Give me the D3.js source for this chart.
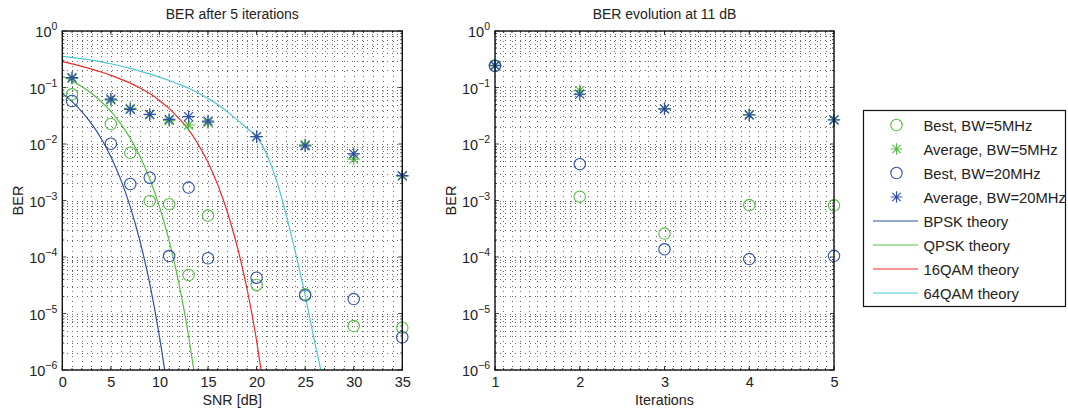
<!DOCTYPE html>
<html>
<head>
<meta charset="utf-8">
<script src="https://cdn.jsdelivr.net/npm/d3@7"></script>
<style>
    body { margin: 0; background: #fff; }
    svg text { font-family: "Liberation Sans", Arial, sans-serif; fill: #222; }
</style>
</head>
<body>
<svg id="chart" width="1068" height="409"></svg>
<script>
"use strict";

// tick labels
var snrTicks = [0, 5, 10, 15, 20, 25, 30, 35];
var iterTicks = [1, 2, 3, 4, 5];
var decades = [0, -1, -2, -3, -4, -5, -6];

// measured points, left panel (BER after 5 iterations)
var snrPoints = [1, 5, 7, 9, 11, 13, 15, 20, 25, 30, 35];
var bestBw5Snr = [0.0757, 0.0226, 0.0070, 0.00098, 0.00086, 4.8e-5, 0.00054, 3.2e-5, 2.2e-5, 6.0e-6, 5.6e-6];
var avgBw5Snr = [0.145, 0.060, 0.0427, 0.033, 0.026, 0.0217, 0.024, 0.0135, 0.0097, 0.0054, 0.0027];
var bestBw20Snr = [0.0577, 0.0101, 0.00196, 0.00253, 1.04e-4, 0.00169, 9.5e-5, 4.3e-5, 2.1e-5, 1.8e-5, 3.8e-6];
var avgBw20Snr = [0.149, 0.0625, 0.041, 0.0335, 0.0273, 0.0305, 0.0255, 0.0135, 0.0093, 0.0067, 0.00275];

// measured points, right panel (BER evolution at 11 dB)
var iterPoints = [1, 2, 3, 4, 5];
var bestBw5Iter = [0.245, 0.00117, 2.6e-4, 0.00083, 0.00082];
var avgBw5Iter = [0.25, 0.088, 0.042, 0.033, 0.027];
var bestBw20Iter = [0.24, 0.0044, 1.37e-4, 9.2e-5, 1.05e-4];
var avgBw20Iter = [0.243, 0.076, 0.042, 0.0326, 0.0266];

// theory curves
var bpskSnr = [0, 1, 2, 3, 4, 5, 6, 7, 8, 9, 10, 10.5, 11];
var bpskBer = [0.0786, 0.0563, 0.0375, 0.0229, 0.0125, 0.00595, 0.00239, 7.7e-4, 1.9e-4, 3.4e-5, 3.9e-6, 1.1e-6, 2.6e-7];
var qpskSnr = [0, 1, 2, 3, 4, 5, 6, 7, 8, 9, 10, 11, 12, 13, 13.5, 14];
var qpskBer = [0.1587, 0.131, 0.104, 0.0789, 0.0565, 0.0377, 0.023, 0.0126, 0.006, 0.00242, 7.8e-4, 1.94e-4, 3.4e-5, 4.0e-6, 1.1e-6, 2.7e-7];
var qam16Snr = [0, 1, 2, 3, 4, 5, 6, 7, 8, 9, 10, 11, 12, 13, 14, 15, 16, 17, 18, 19, 20, 20.5, 21];
var qam16Ber = [0.287, 0.2625, 0.237, 0.212, 0.188, 0.164, 0.141, 0.1195, 0.098, 0.078, 0.059, 0.0422, 0.0285, 0.018, 0.0098, 0.0047, 0.0019, 6.2e-4, 1.55e-4, 2.8e-5, 3.3e-6, 9e-7, 2.2e-7];
var qam64Snr = [0, 1, 2, 3, 4, 5, 6, 7, 8, 9, 10, 11, 12, 13, 14, 15, 16, 17, 18, 19, 20, 21, 22, 23, 24, 25, 26, 26.6, 27];
var qam64Ber = [0.355, 0.34, 0.325, 0.305, 0.285, 0.263, 0.240, 0.218, 0.195, 0.174, 0.153, 0.133, 0.114, 0.097, 0.080, 0.064, 0.050, 0.037, 0.027, 0.019, 0.0135, 0.0068, 0.0024, 6.0e-4, 1.2e-4, 2.1e-5, 3.0e-6, 1.0e-6, 3.5e-7];

var seriesNames = ["Best, BW=5MHz", "Average, BW=5MHz", "Best, BW=20MHz", "Average, BW=20MHz",
    "BPSK theory", "QPSK theory", "16QAM theory", "64QAM theory"];

var blue = "#2f4ea6",
    green = "#59bd45",
    red = "#ec2a2a",
    cyan = "#4cc7d7";

var svg = d3.select("#chart");
var plotTop = 31, plotBottom = 370;

function zip(xs, ys) {
    return xs.map(function (x, i) { return [x, ys[i]]; });
}

function starPath(s) {
    var d = s * 0.72;
    return "M" + (-s) + ",0H" + s + "M0," + (-s) + "V" + s +
        "M" + (-d) + "," + (-d) + "L" + d + "," + d +
        "M" + (-d) + "," + d + "L" + d + "," + (-d);
}

function panel(opt) {
    var x = d3.scaleLinear().domain(opt.domain).range([opt.left, opt.right]),
        y = d3.scaleLog().domain([1e-6, 1]).range([plotBottom, plotTop]),
        g = svg.append("g"),
        minorY = [],
        minorX = d3.range(opt.domain[0], opt.domain[1] + 1e-9, opt.minorStep);

    decades.slice(1).forEach(function (e) {
        for (var m = 2; m <= 9; m++) minorY.push(m * Math.pow(10, e));
    });

    var clipId = "clip" + Math.round(opt.left);
    svg.append("clipPath").attr("id", clipId).append("rect")
        .attr("x", opt.left).attr("y", plotTop)
        .attr("width", opt.right - opt.left).attr("height", plotBottom - plotTop);

    // dotted grid
    var gx0 = Math.round(opt.left), gx1 = Math.round(opt.right);
    var grid = g.append("g").attr("stroke", "#666").attr("stroke-width", 1)
        .attr("stroke-dasharray", "1,4");
    grid.selectAll(".gy").data(minorY.concat(decades.map(function (e) { return Math.pow(10, e); })))
        .enter().append("line")
        .attr("x1", gx0).attr("x2", gx1)
        .attr("y1", function (d) { return Math.round(y(d)) + 0.5; })
        .attr("y2", function (d) { return Math.round(y(d)) + 0.5; });
    grid.selectAll(".gx").data(minorX).enter().append("line")
        .attr("y1", plotTop).attr("y2", plotBottom)
        .attr("x1", function (d) { return Math.round(x(d)) + 0.5; })
        .attr("x2", function (d) { return Math.round(x(d)) + 0.5; });

    // inner ticks on all four sides
    var ticks = g.append("g").attr("stroke", "#111").attr("stroke-width", 0.8);
    minorY.forEach(function (v) {
        ticks.append("line").attr("x1", opt.left).attr("x2", opt.left + 2).attr("y1", y(v)).attr("y2", y(v));
        ticks.append("line").attr("x1", opt.right).attr("x2", opt.right - 2).attr("y1", y(v)).attr("y2", y(v));
    });
    decades.forEach(function (e) {
        var v = Math.pow(10, e);
        ticks.append("line").attr("x1", opt.left).attr("x2", opt.left + 4).attr("y1", y(v)).attr("y2", y(v));
        ticks.append("line").attr("x1", opt.right).attr("x2", opt.right - 4).attr("y1", y(v)).attr("y2", y(v));
    });
    minorX.forEach(function (v) {
        ticks.append("line").attr("y1", plotBottom).attr("y2", plotBottom - 2).attr("x1", x(v)).attr("x2", x(v));
        ticks.append("line").attr("y1", plotTop).attr("y2", plotTop + 2).attr("x1", x(v)).attr("x2", x(v));
    });
    opt.ticks.forEach(function (v) {
        ticks.append("line").attr("y1", plotBottom).attr("y2", plotBottom - 4).attr("x1", x(v)).attr("x2", x(v));
        ticks.append("line").attr("y1", plotTop).attr("y2", plotTop + 4).attr("x1", x(v)).attr("x2", x(v));
    });

    // x tick labels
    g.append("g").attr("transform", "translate(0," + plotBottom + ")")
        .call(d3.axisBottom(x).tickValues(opt.ticks).tickSize(0).tickPadding(7).tickFormat(d3.format("d")))
        .call(function (a) {
            a.select(".domain").remove();
            a.selectAll("text").attr("font-size", 14.5).attr("fill", "#222")
                .attr("font-family", "Liberation Sans, Arial, sans-serif");
        });

    // y tick labels as powers of ten
    decades.forEach(function (e) {
        var t = g.append("text").attr("x", opt.left - 5).attr("y", y(Math.pow(10, e)) + 6)
            .attr("text-anchor", "end").attr("font-size", 14.5);
        t.append("tspan").text("10");
        t.append("tspan").attr("dy", -7).attr("font-size", 10.5)
            .text(e === 0 ? "0" : "\u2212" + (-e));
    });

    // theory lines
    var line = d3.line().curve(d3.curveMonotoneX)
        .x(function (d) { return x(d[0]); })
        .y(function (d) { return y(d[1]); });
    (opt.lines || []).forEach(function (l) {
        g.append("path").datum(l.data).attr("d", line)
            .attr("clip-path", "url(#" + clipId + ")")
            .attr("fill", "none").attr("stroke", l.color).attr("stroke-width", 1.2);
    });

    // markers
    opt.markers.forEach(function (m) {
        var pts = zip(m.x, m.y);
        if (m.type === "circle") {
            g.append("g").selectAll("circle").data(pts).enter().append("circle")
                .attr("cx", function (d) { return x(d[0]); })
                .attr("cy", function (d) { return y(d[1]); })
                .attr("r", 5.7).attr("fill", "none")
                .attr("stroke", m.color).attr("stroke-width", 1.1);
        } else {
            g.append("g").selectAll("path").data(pts).enter().append("path")
                .attr("transform", function (d) { return "translate(" + x(d[0]) + "," + y(d[1]) + ")"; })
                .attr("d", starPath(6.2)).attr("fill", "none")
                .attr("stroke", m.color).attr("stroke-width", 1.2);
        }
    });

    // frame
    g.append("rect").attr("x", opt.left).attr("y", plotTop)
        .attr("width", opt.right - opt.left).attr("height", plotBottom - plotTop)
        .attr("fill", "none").attr("stroke", "#111").attr("stroke-width", 1.4);

    // titles
    var cx = (opt.left + opt.right) / 2;
    g.append("text").attr("x", cx).attr("y", 19).attr("text-anchor", "middle")
        .attr("font-size", 14).text(opt.title);
    g.append("text").attr("x", cx).attr("y", 405).attr("text-anchor", "middle")
        .attr("font-size", 14.3).text(opt.xLabel);
    g.append("text").attr("transform", "translate(" + (opt.left - 39) + "," + ((plotTop + plotBottom) / 2) + ") rotate(-90)")
        .attr("text-anchor", "middle").attr("font-size", 14.5).text("BER");
}

panel({
    left: 62.3, right: 402.3, domain: [0, 35], minorStep: 1, ticks: snrTicks,
    title: "BER after 5 iterations", xLabel: "SNR [dB]",
    markers: [
        { type: "circle", color: green, x: snrPoints, y: bestBw5Snr },
        { type: "star", color: green, x: snrPoints, y: avgBw5Snr },
        { type: "circle", color: blue, x: snrPoints, y: bestBw20Snr },
        { type: "star", color: blue, x: snrPoints, y: avgBw20Snr }
    ],
    lines: [
        { color: blue, data: zip(bpskSnr, bpskBer) },
        { color: green, data: zip(qpskSnr, qpskBer) },
        { color: red, data: zip(qam16Snr, qam16Ber) },
        { color: cyan, data: zip(qam64Snr, qam64Ber) }
    ]
});

panel({
    left: 495, right: 834, domain: [1, 5], minorStep: 0.1, ticks: iterTicks,
    title: "BER evolution at 11 dB", xLabel: "Iterations",
    markers: [
        { type: "circle", color: green, x: iterPoints, y: bestBw5Iter },
        { type: "star", color: green, x: iterPoints, y: avgBw5Iter },
        { type: "circle", color: blue, x: iterPoints, y: bestBw20Iter },
        { type: "star", color: blue, x: iterPoints, y: avgBw20Iter }
    ]
});

// legend
var legend = svg.append("g");
legend.append("rect").attr("x", 863.5).attr("y", 110.5).attr("width", 202).attr("height", 196)
    .attr("fill", "#fff").attr("stroke", "#111").attr("stroke-width", 1.2);
var legendColors = [green, green, blue, blue, blue, green, red, cyan];
seriesNames.forEach(function (name, i) {
    var ly = 125 + i * 24,
        c = legendColors[i];
    if (i === 0 || i === 2) {
        legend.append("circle").attr("cx", 896.5).attr("cy", ly).attr("r", 5.7)
            .attr("fill", "none").attr("stroke", c).attr("stroke-width", 1.1);
    } else if (i === 1 || i === 3) {
        legend.append("path").attr("transform", "translate(896.5," + ly + ")")
            .attr("d", starPath(5.8)).attr("fill", "none").attr("stroke", c).attr("stroke-width", 1.1);
    } else {
        legend.append("line").attr("x1", 873).attr("x2", 918).attr("y1", ly).attr("y2", ly)
            .attr("stroke", c).attr("stroke-width", 1.2);
    }
    legend.append("text").attr("x", 923.5).attr("y", ly + 5.5).attr("font-size", 14.8).text(name);
});
</script>
</body>
</html>
